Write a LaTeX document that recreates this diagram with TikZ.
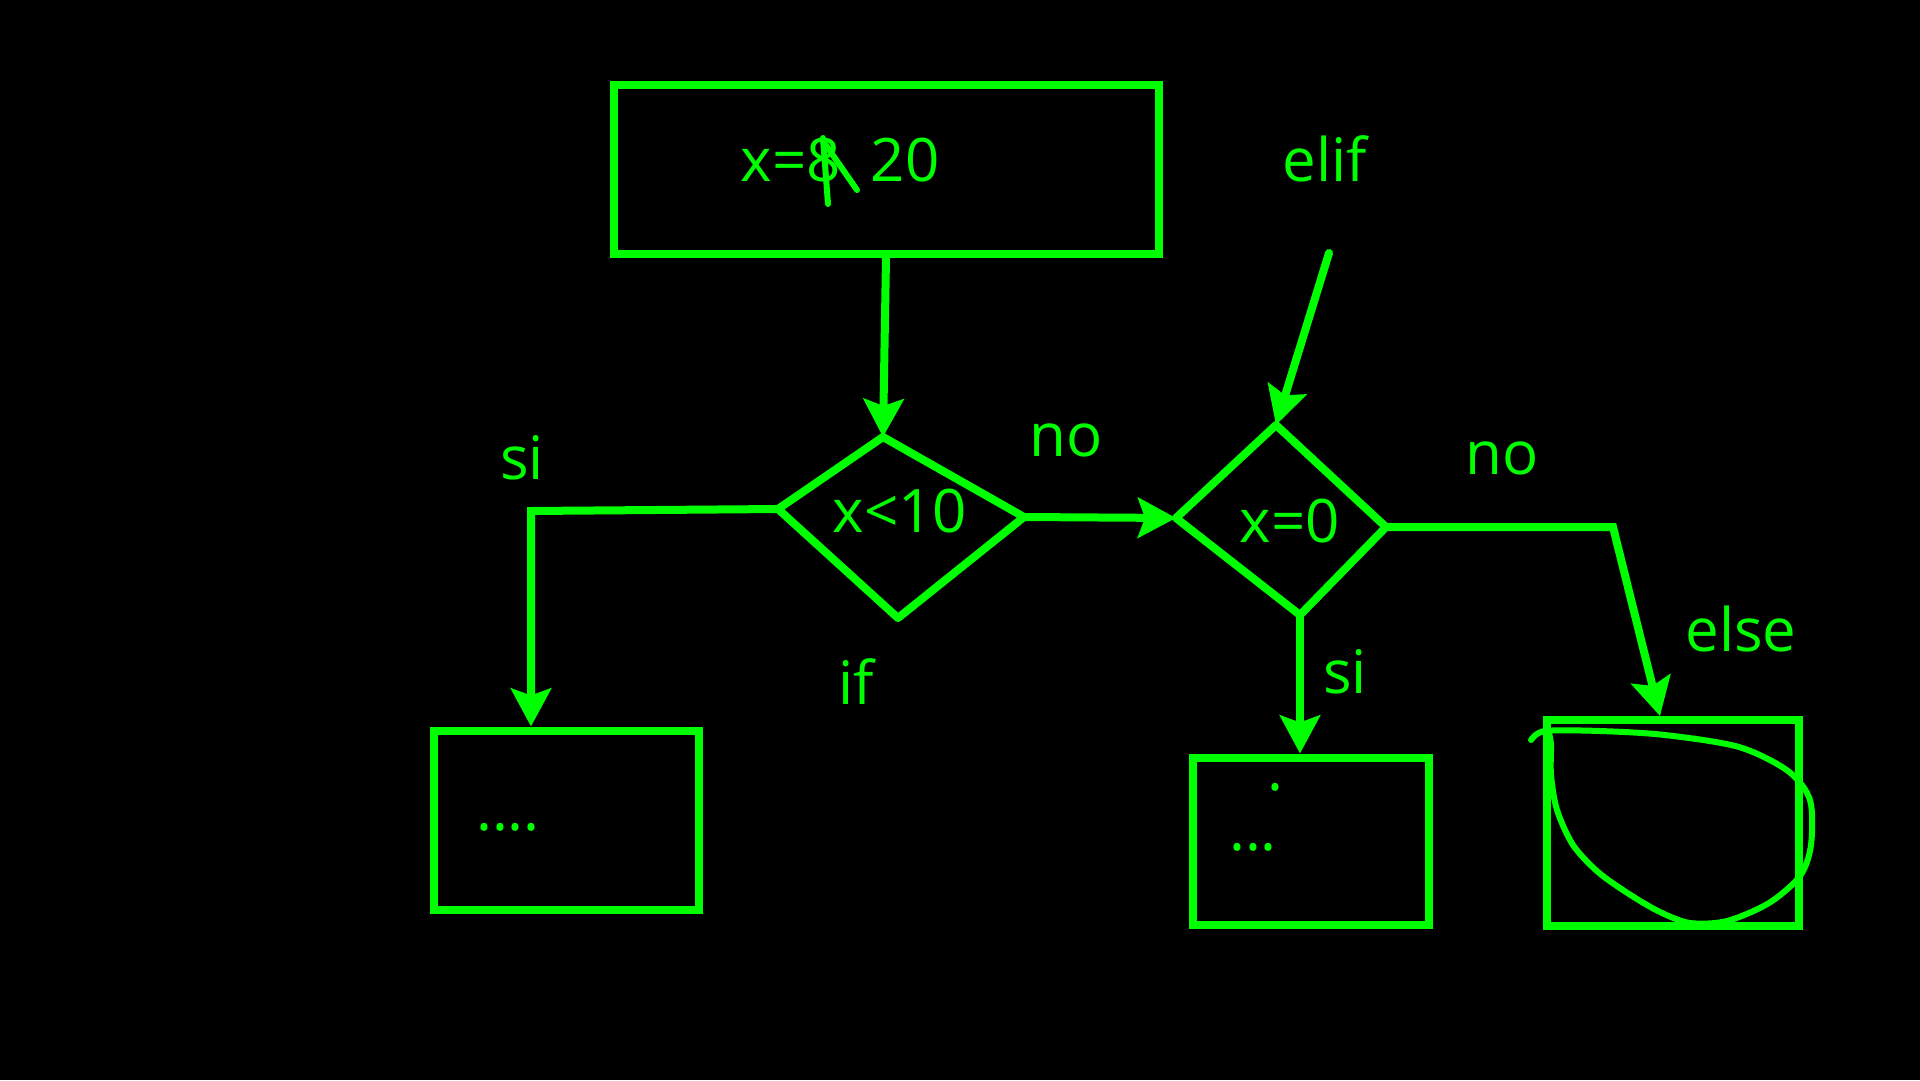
\documentclass[tikz,border=0pt]{standalone}
\usepackage{fontspec}
\setmainfont{Open Sans}
\usetikzlibrary{arrows.meta,positioning,calc}
\definecolor{chalk}{RGB}{0,255,0}
\tikzset{
    ink/.style={draw=chalk, line width=8pt},
    box/.style={ink, rectangle, inner sep=0pt},
    lbl/.style={text=chalk, font=\fontsize{60}{72}\selectfont, inner sep=0pt},
    >={Stealth[length=38pt,width=40pt,inset=7pt]}
}

\begin{document}
\begin{tikzpicture}[x=1pt,y=-1pt]
    		\fill[black] (0,0) rectangle (1920,1080);
    		
    		\coordinate(d1t) at (883,437);
    		\coordinate(d1r) at (1024,517);
    		\coordinate(d1b) at (898,618);
    		\coordinate(d1l) at (778,509);
    		\coordinate(d2t) at (1276,425);
    		\coordinate(d2r) at (1386,527);
    		\coordinate(d2b) at (1300,615);
    		\coordinate(d2l) at (1176,518);
    		\coordinate(k1) at (531,511);
    		\coordinate(k2) at (1613,527);
    		\coordinate(e0) at (1329,253);
    		
    		\node[box, minimum width=545pt, minimum height=169pt] (init) at (886,169) {};
    		\node[box, minimum width=265pt, minimum height=179pt] (yes1) at (566,820) {};
    		\node[box, minimum width=236pt, minimum height=167pt] (yes2) at (1311,841) {};
    		\node[box, minimum width=252pt, minimum height=206pt] (els) at (1673,823) {};
    		
    		\draw[ink, line join=round] (d1t) -- (d1r) -- (d1b) -- (d1l) -- cycle;
    		\draw[ink, line join=round] (d2t) -- (d2r) -- (d2b) -- (d2l) -- cycle;
    		
    		\node[lbl] (initx) at (840,160) {x=8\enspace20};
    		\draw[ink, line width=6pt, line cap=round] (823,138) -- (828,204);
    		\draw[ink, line width=6pt, line cap=round] (823,141) -- (857,190);
    		\node[lbl] (cond1) at (900,511) {x<10};
    		\node[lbl] (cond2) at (1290,521) {x=0};
    		\node[lbl] (dots1) at (508,827) {....};
    		\node[lbl] (dot2) at (1275,787) {.};
    		\node[lbl] (dots2) at (1253,847) {...};
    		
    		\node[lbl] (si1) at (522,458) {si};
    		\node[lbl] (no1) at (1066,440) {no};
    		\node[lbl] (iflbl) at (856,682) {if};
    		\node[lbl] (eliflbl) at (1325,159) {elif};
    		\node[lbl] (no2) at (1502,458) {no};
    		\node[lbl] (elselbl) at (1741,629) {else};
    		\node[lbl] (si2) at (1345,672) {si};
    		
    		\draw[ink, ->] (init.south) -- (d1t);
    		\draw[ink, ->] (d1l) -- (k1) -- (k1 |- yes1.north);
    		\draw[ink, ->] (d1r) -- (d2l);
    		\draw[ink, ->, line cap=round] (e0) -- (d2t);
    		\draw[ink, ->] (d2b) -- (d2b |- yes2.north);
    		\draw[ink, ->] (d2r) -- (k2) -- ([xshift=-13pt]els.north);
    		% hand drawn loop in the else box
    		\draw[ink, line width=6pt, line cap=round] plot[smooth] coordinates {(1531,740) (1545,731) (1600,731) (1665,735) (1739,747) (1788,771) (1810,800) (1811,845) (1800,876) (1769,903) (1727,921) (1690,923) (1660,912) (1629,894) (1598,872) (1573,845) (1557,810) (1551,775) (1551,745) (1549,733)};
    	\end{tikzpicture}
\end{document}
